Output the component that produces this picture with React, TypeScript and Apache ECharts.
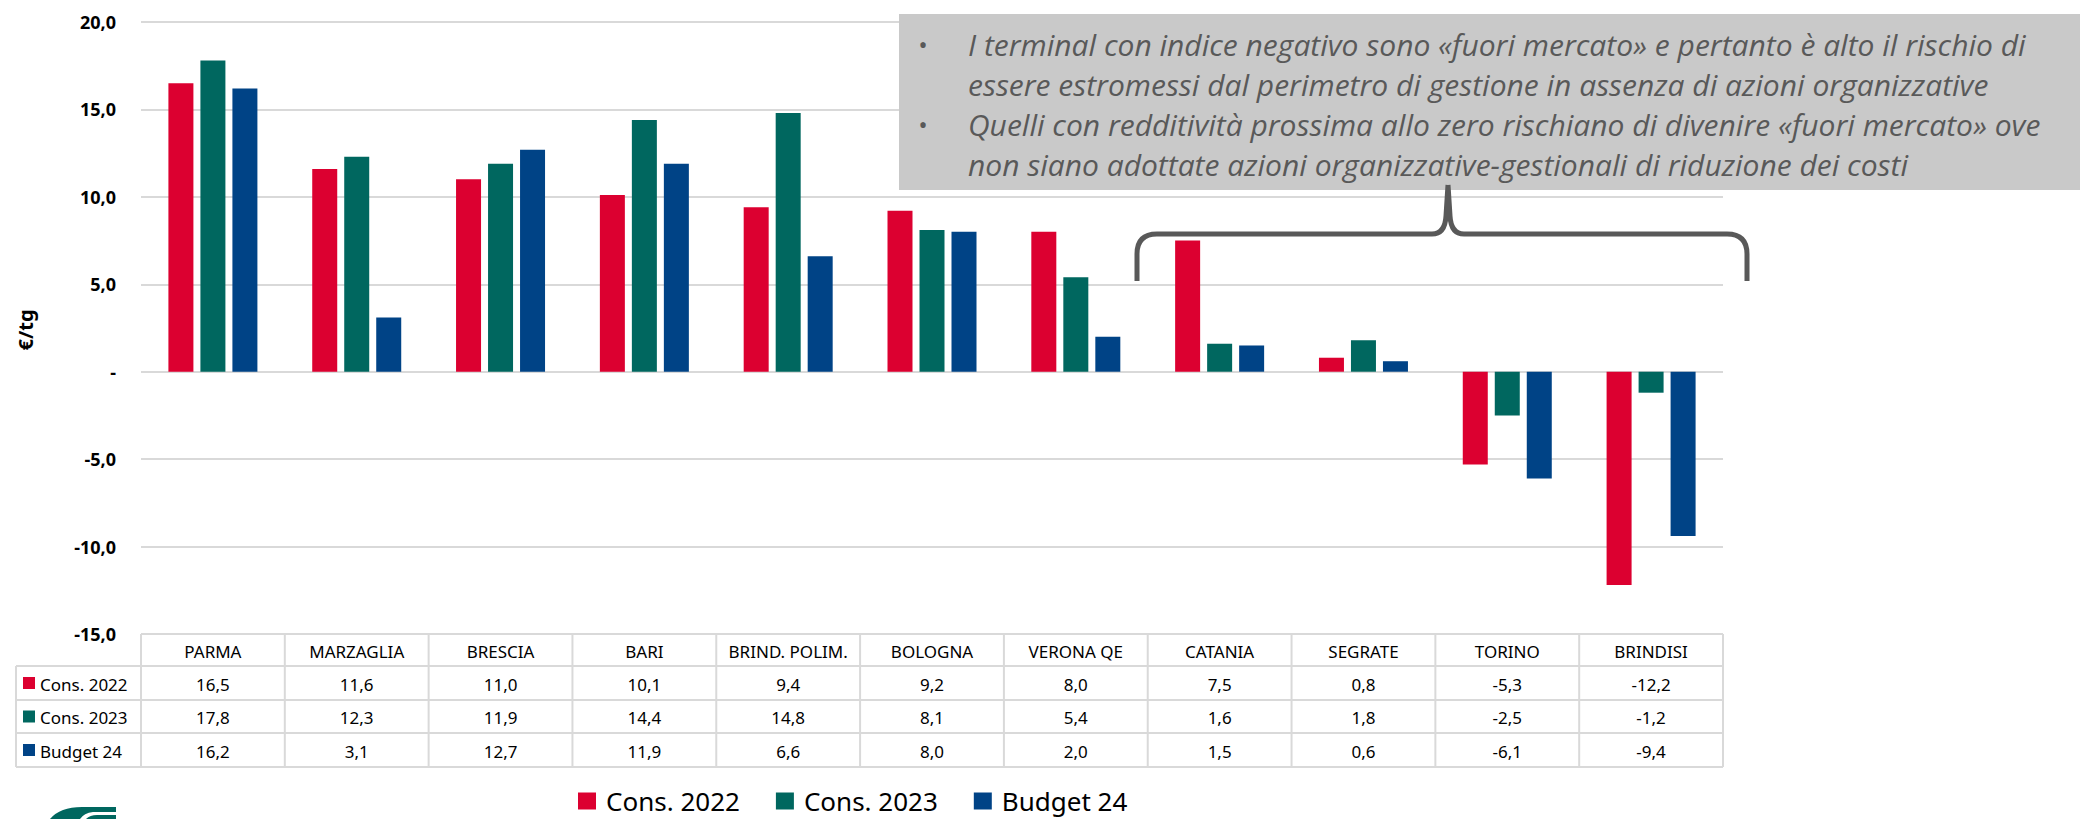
import React, { useEffect, useRef } from "react";
import * as echarts from "echarts";

const categories = ["PARMA", "MARZAGLIA", "BRESCIA", "BARI", "BRIND. POLIM.", "BOLOGNA", "VERONA QE", "CATANIA", "SEGRATE", "TORINO", "BRINDISI"];
const cons2022 = [16.5, 11.6, 11.0, 10.1, 9.4, 9.2, 8.0, 7.5, 0.8, -5.3, -12.2];
const cons2023 = [17.8, 12.3, 11.9, 14.4, 14.8, 8.1, 5.4, 1.6, 1.8, -2.5, -1.2];
const budget24 = [16.2, 3.1, 12.7, 11.9, 6.6, 8.0, 2.0, 1.5, 0.6, -6.1, -9.4];
const seriesNames = ["Cons. 2022", "Cons. 2023", "Budget 24"];
const seriesColors = ["#DC0030", "#00675F", "#004386"];
const yMin = -15;
const yMax = 20;
const yInterval = 5;
const yAxisName = "€/tg";
const noteLines = [
  "I terminal con indice negativo sono «fuori mercato» e pertanto è alto il rischio di",
  "essere estromessi dal perimetro di gestione in assenza di azioni organizzative",
  "Quelli con redditività prossima allo zero rischiano di divenire «fuori mercato» ove",
  "non siano adottate azioni organizzative-gestionali di riduzione dei costi",
];
const bulletLines = [0, 2];

const BRACE_D =
  "M1137 281 L1137 254 Q1137 234 1157 234 L1432 234 Q1445 234 1446 216 L1448 185 M1448 185 L1450 216 Q1451 234 1464 234 L1727 234 Q1747 234 1747 254 L1747 281";
const LOGO_D =
  "M50 819 Q60 807 82 807 L116 807 L116 812 L93 812 Q84 813 80 819 Z M86 819 Q90 815 97 815 L116 815 L116 819 Z";

const fmt = (v: number) => (v === 0 ? "-" : v.toFixed(1).replace(".", ","));

export default function App() {
  const ref = useRef<HTMLDivElement>(null);
  useEffect(() => {
    if (!ref.current) return;
    echarts.graphic.registerShape("brace", echarts.graphic.extendPath(BRACE_D, {}));
    echarts.graphic.registerShape("logo", echarts.graphic.extendPath(LOGO_D, {}));
    const chart = echarts.init(ref.current, null, { renderer: "svg", width: 2080, height: 819 });

    const gridLeft = 141;
    const gridTop = 22;
    const gridWidth = 1582;
    const gridHeight = 612;
    const font = "Noto Sans";
    const colW = gridWidth / categories.length;
    const tableTop = gridTop + gridHeight;
    const rowYs = [tableTop, 666, 700, 733, 767];
    const legendColLeft = 16;
    const lineStyle = { stroke: "#D9D9D9", lineWidth: 2 };
    const seriesData = [cons2022, cons2023, budget24];

    const g: any[] = [];
    g.push({ type: "line", shape: { x1: gridLeft, y1: rowYs[0], x2: gridLeft + gridWidth, y2: rowYs[0] }, style: lineStyle, z: 5 });
    for (let r = 1; r < rowYs.length; r++) {
      g.push({ type: "line", shape: { x1: legendColLeft, y1: rowYs[r], x2: gridLeft + gridWidth, y2: rowYs[r] }, style: lineStyle, z: 5 });
    }
    g.push({ type: "line", shape: { x1: legendColLeft, y1: rowYs[1], x2: legendColLeft, y2: rowYs[4] }, style: lineStyle, z: 5 });
    for (let c = 0; c <= categories.length; c++) {
      const x = gridLeft + c * colW;
      g.push({ type: "line", shape: { x1: x, y1: rowYs[0], x2: x, y2: rowYs[4] }, style: lineStyle, z: 5 });
    }
    categories.forEach((cat, c) => {
      const cx = gridLeft + (c + 0.5) * colW;
      g.push({
        type: "text", x: cx, y: (rowYs[0] + rowYs[1]) / 2 + 1, z: 6,
        style: { text: cat, fontSize: 17, fontFamily: font, fill: "#000", align: "center", verticalAlign: "middle" },
      });
      seriesData.forEach((arr, s) => {
        g.push({
          type: "text", x: cx, y: (rowYs[s + 1] + rowYs[s + 2]) / 2 + 1, z: 6,
          style: { text: fmt(arr[c]), fontSize: 17, fontFamily: font, fill: "#000", align: "center", verticalAlign: "middle" },
        });
      });
    });
    seriesNames.forEach((name, s) => {
      const cy = (rowYs[s + 1] + rowYs[s + 2]) / 2;
      g.push({ type: "rect", shape: { x: 23, y: cy - 6, width: 12, height: 12 }, style: { fill: seriesColors[s] }, z: 6 });
      g.push({
        type: "text", x: 40, y: cy + 1, z: 6,
        style: { text: name, fontSize: 17, fontFamily: font, fill: "#000", align: "left", verticalAlign: "middle" },
      });
    });
    g.push({
      type: "text", x: 25, y: 330, rotation: Math.PI / 2, z: 6,
      style: { text: yAxisName, fontSize: 20, fontWeight: "bold", fontFamily: font, fill: "#000", align: "center", verticalAlign: "middle" },
    });
    g.push({ type: "rect", shape: { x: 899, y: 14, width: 1181, height: 176 }, style: { fill: "#C9C9C9" }, z: 20 });
    noteLines.forEach((t, i) => {
      const y = 44 + i * 40;
      if (bulletLines.includes(i)) {
        g.push({ type: "text", x: 923, y, z: 21, style: { text: "•", fontSize: 24, fontFamily: font, fill: "#595959", align: "center", verticalAlign: "middle" } });
      }
      g.push({
        type: "text", x: 968, y, z: 21,
        style: { text: t, fontSize: 30, fontStyle: "italic", fontFamily: "Open Sans", fill: "#595959", align: "left", verticalAlign: "middle" },
      });
    });
    g.push({ type: "brace", x: 0, y: 0, z: 22, style: { fill: "none", stroke: "#595959", lineWidth: 5, lineJoin: "round" } });
    g.push({ type: "logo", x: 0, y: 0, z: 22, style: { fill: "#00675F" } });

    chart.setOption({
      animation: false,
      grid: { left: gridLeft, top: gridTop, width: gridWidth, height: gridHeight, containLabel: false },
      legend: {
        left: 578, top: 788, padding: 0, itemWidth: 18, itemHeight: 17, itemGap: 36, icon: "rect",
        textStyle: { fontSize: 26, fontFamily: font, color: "#000", padding: [0, 0, 0, 5], lineHeight: 26 },
        data: seriesNames,
      },
      xAxis: {
        type: "category", data: categories,
        axisLine: { show: false }, axisTick: { show: false }, axisLabel: { show: false }, splitLine: { show: false },
      },
      yAxis: {
        type: "value", min: yMin, max: yMax, interval: yInterval,
        axisLine: { show: false }, axisTick: { show: false },
        axisLabel: { formatter: (v: number) => fmt(v), fontSize: 18, fontWeight: "bold", fontFamily: font, color: "#000", margin: 25 },
        splitLine: { lineStyle: { color: "#D9D9D9", width: 2 } },
      },
      series: seriesNames.map((name, s) => ({
        name, type: "bar", data: seriesData[s], barWidth: 25, barGap: "28%",
        itemStyle: { color: seriesColors[s] },
      })),
      graphic: { elements: g },
    });
    return () => chart.dispose();
  }, []);
  return <div ref={ref} style={{ position: "absolute", left: 0, top: 0, width: 2080, height: 819 }} />;
}
